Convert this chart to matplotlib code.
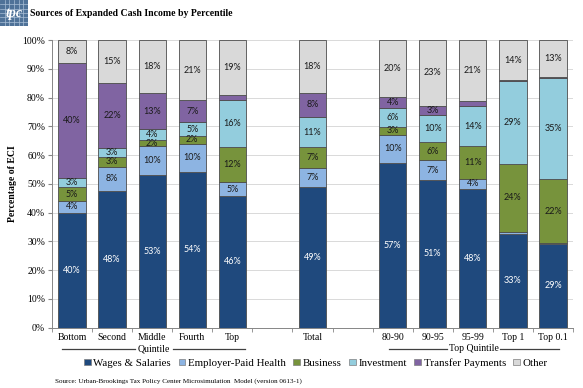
import numpy as np
import matplotlib
matplotlib.use("Agg")
import matplotlib.pyplot as plt
from matplotlib.patches import Patch, Rectangle

plt.rcParams['font.family'] = ['Liberation Serif', 'DejaVu Serif']

# categories ('' = empty slot on the axis)
categories = ['Bottom', 'Second', 'Middle', 'Fourth', 'Top', '', 'Total', '',
              '80-90', '90-95', '95-99', 'Top 1', 'Top 0.1']

# shares of ECI (%) for the non-empty categories, bottom to top of the stack
wages     = [40.0, 47.5, 53.1, 54.1, 45.9, 48.8, 57.3, 51.3, 48.1, 32.7, 29.0]
health    = [ 4.1,  8.5,  9.9,  9.9,  4.6,  6.8,  9.7,  7.0,  3.7,  0.6,  0.3]
business  = [ 4.7,  3.4,  2.2,  2.5, 12.4,  7.1,  2.9,  6.1, 11.3, 23.6, 22.3]
invest    = [ 3.3,  3.2,  3.7,  5.1, 16.1, 10.6,  6.3,  9.6, 14.0, 28.7, 35.1]
transfer  = [39.8, 22.3, 12.8,  7.4,  1.9,  8.4,  4.0,  3.1,  1.7,  0.5,  0.3]
other     = [ 8.1, 15.1, 18.3, 21.0, 19.1, 18.3, 19.8, 22.9, 21.1, 13.8, 13.0]

series_names = ['Wages & Salaries', 'Employer-Paid Health', 'Business',
                'Investment', 'Transfer Payments', 'Other']
series = [wages, health, business, invest, transfer, other]
colors = ['#1F497D', '#8DB4E2', '#77933C', '#93CDDD', '#8064A2', '#D9D9D9']
text_colors = ['white', '#1a1a1a', '#1a1a1a', '#1a1a1a', '#1a1a1a', '#1a1a1a']

pos = np.array([i for i, c in enumerate(categories) if c])
labels = [c for c in categories if c]

fig = plt.figure(figsize=(5.83, 3.88), dpi=100)
ax = fig.add_axes([52 / 583, 1 - 327.7 / 388, 521 / 583, 287.7 / 388])

bottom = np.zeros(len(pos))
for vals, col, tcol, name in zip(series, colors, text_colors, series_names):
    vals = np.array(vals)
    ax.bar(pos, vals, width=0.68, bottom=bottom, color=col,
           edgecolor='#4d4d4d', linewidth=0.6, label=name, zorder=3)
    for x, b, v in zip(pos, bottom, vals):
        if v >= 2:
            ax.text(x, b + v / 2, f'{round(v):.0f}%', ha='center', va='center',
                    fontsize=6.5, color=tcol, family=['Lato', 'DejaVu Sans'],
                    zorder=4)
    bottom += vals

ax.set_xlim(-0.5, len(categories) - 0.5)
ax.set_ylim(0, 100)
ax.set_yticks(np.arange(0, 101, 10))
ax.set_yticklabels([f'{t}%' for t in range(0, 101, 10)], fontsize=7)
ax.set_xticks(pos)
ax.set_xticklabels(labels, fontsize=7)
ax.tick_params(axis='x', which='major', length=0, pad=4)
ax.set_xticks(np.arange(-0.5, len(categories), 1), minor=True)
ax.tick_params(axis='x', which='minor', length=3, color='#868686')
ax.tick_params(axis='y', length=3, color='#868686', pad=2)
ax.grid(axis='y', color='#d9d9d9', linewidth=0.7, zorder=0)
for s in ['top', 'right']:
    ax.spines[s].set_visible(False)
for s in ['left', 'bottom']:
    ax.spines[s].set_color('#868686')
    ax.spines[s].set_linewidth(0.7)

ax.set_ylabel('Percentage of ECI', fontsize=7, fontweight='bold', labelpad=4)

# group labels under the category labels
tr = ax.get_xaxis_transform()
gy = -0.074
for (x0, x1, x2, x3), txt in [((-0.24, 1.56, 2.51, 4.31), 'Quintile'),
                              ((7.9, 9.36, 10.68, 12.16), 'Top Quintile')]:
    ax.plot([x0, x1], [gy, gy], color='#404040', lw=0.9, transform=tr, clip_on=False)
    ax.plot([x2, x3], [gy, gy], color='#404040', lw=0.9, transform=tr, clip_on=False)
    ax.text((x1 + x2) / 2, gy, txt, ha='center', va='center', fontsize=7,
            transform=tr)

handles = [Patch(facecolor=c, edgecolor='#7f7f7f', linewidth=0.5) for c in colors]
fig.legend(handles, series_names, loc='center', bbox_to_anchor=(0.542, 1 - 363 / 388),
           ncol=6, frameon=False, fontsize=7.8, handlelength=0.6, handleheight=0.6,
           handletextpad=0.25, columnspacing=0.7, borderaxespad=0)

fig.text(30 / 583, 1 - 14 / 388, 'Sources of Expanded Cash Income by Percentile',
         fontsize=7, fontweight='bold', va='center', ha='left')
fig.text(55 / 583, 1 - 381 / 388,
         'Source: Urban-Brookings Tax Policy Center Microsimulation  Model (version 0613-1)',
         fontsize=5.1, va='center', ha='left')

# small tpc logo
lax = fig.add_axes([0, 1 - 26 / 388, 28 / 583, 26 / 388])
lax.add_patch(Rectangle((0, 0), 1, 1, color='#4f7298'))
for g in np.linspace(0, 1, 7)[1:-1]:
    lax.axvline(g, color='#a9bfd6', lw=0.5)
    lax.axhline(g, color='#a9bfd6', lw=0.5)
lax.text(0.5, 0.5, 'tpc', color='white', fontsize=10, fontweight='bold',
         style='italic', ha='center', va='center')
lax.set_xlim(0, 1)
lax.set_ylim(0, 1)
lax.axis('off')

fig.savefig('out.png', dpi=100)
